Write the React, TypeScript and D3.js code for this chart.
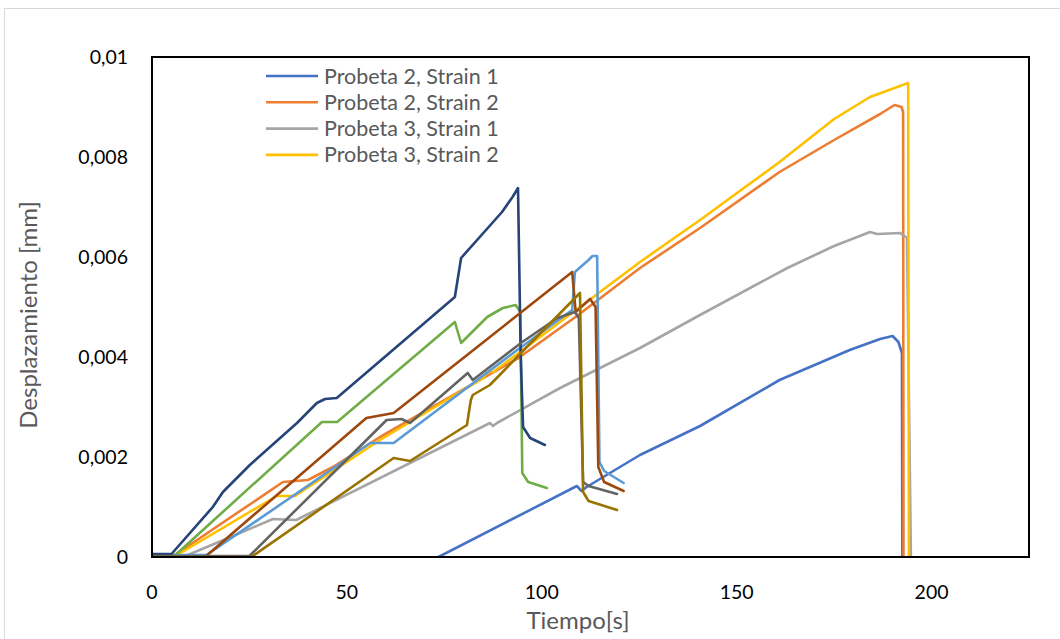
import * as d3 from "d3";

// tiempo [s], desplazamiento [mm]
const p2s1 = [[73.5, 0], [109, 0.00142], [110.2, 0.00132], [111.5, 0.0014], [125.2, 0.00204], [140.6, 0.00262], [161, 0.00354], [179, 0.00414], [186.8, 0.00436], [190, 0.00442], [191.5, 0.0043], [192.4, 0.00408], [192.5, 0]];
const p2s2 = [[0, 0.00002], [5.5, 0.00002], [33.6, 0.0015], [40, 0.00154], [46.4, 0.0018], [58.5, 0.0024], [94, 0.00398], [109, 0.00482], [125.2, 0.00578], [140.6, 0.00658], [161, 0.0077], [175, 0.00834], [186.8, 0.00886], [190.5, 0.00904], [192.3, 0.009], [192.7, 0.0089], [192.8, 0]];
const p3s1 = [[0, 0], [8, 0], [22.6, 0.00048], [31, 0.00076], [37, 0.00074], [86.7, 0.00268], [87.5, 0.00262], [88.5, 0.00268], [104.7, 0.00338], [125.2, 0.00418], [140.6, 0.00484], [163, 0.00578], [175, 0.00622], [184.2, 0.0065], [186, 0.00646], [192, 0.00648], [193.7, 0.00638], [194.7, 0]];
const p3s2 = [[0, 0.00002], [6, 0.00002], [32, 0.00122], [36.7, 0.00122], [58.5, 0.00234], [85, 0.00358], [86, 0.0037], [87.5, 0.0037], [94.4, 0.0041], [125.2, 0.0059], [140.6, 0.00674], [161, 0.0079], [175, 0.00876], [184.2, 0.0092], [194, 0.00948], [194.2, 0]];
const s5 = [[0, 0.00004], [14, 0.00004], [56, 0.00228], [62, 0.00228], [93.7, 0.00414], [107.8, 0.00494], [108.5, 0.0057], [112, 0.00594], [113, 0.00602], [114.2, 0.00602], [114.8, 0.0019], [116, 0.00172], [121, 0.00148]];
const s6 = [[0, 0.00004], [6, 0.00004], [43.6, 0.0027], [47.5, 0.0027], [77.7, 0.0047], [79.3, 0.00428], [86, 0.0048], [90, 0.00498], [93.3, 0.00504], [94.5, 0.0049], [95, 0.00168], [96.5, 0.0015], [101.3, 0.00138]];
const s7 = [[0, 0.00006], [5, 0.00006], [15.6, 0.001], [18.2, 0.0013], [25.1, 0.00184], [37.2, 0.00268], [42.3, 0.00308], [44.4, 0.00316], [47.4, 0.00318], [77.7, 0.0052], [79.3, 0.00598], [89.8, 0.0069], [92.5, 0.0072], [93.9, 0.00738], [94.6, 0.004], [95.2, 0.0026], [97, 0.00238], [100.8, 0.00224]];
const s8 = [[0, 0], [13.6, 0], [55, 0.00278], [62, 0.00288], [107.8, 0.0057], [108.7, 0.0049], [112.4, 0.00516], [113.8, 0.005], [114.5, 0.0018], [116, 0.0015], [121, 0.00132]];
const s9 = [[0, 0.00002], [25, 0.00002], [60.2, 0.00274], [64, 0.00276], [66.2, 0.00268], [81, 0.00368], [82.3, 0.00354], [95, 0.0043], [104, 0.00478], [108.5, 0.0049], [109.5, 0.00478], [110.6, 0.0015], [112, 0.00142], [119.3, 0.00126]];
const s10 = [[0, 0], [25.5, 0], [62, 0.00198], [66.2, 0.00192], [80.8, 0.00264], [81.8, 0.00314], [82.3, 0.00324], [86.7, 0.00344], [94.4, 0.00406], [105, 0.0049], [109.8, 0.00528], [110.6, 0.0013], [112, 0.00112], [119.3, 0.00094]];

const seriesData = [p2s1, p2s2, p3s1, p3s2, s5, s6, s7, s8, s9, s10];
const seriesColors = ["#4472C4", "#ED7D31", "#A5A5A5", "#FFC000", "#5B9BD5", "#70AD47", "#264478", "#9E480E", "#636363", "#997300"];
const legendNames = ["Probeta 2, Strain 1", "Probeta 2, Strain 2", "Probeta 3, Strain 1", "Probeta 3, Strain 2"];

const xTicks = [0, 50, 100, 150, 200];
const yTicks = [0, 0.002, 0.004, 0.006, 0.008, 0.01];
const yTickLabels = ["0", "0,002", "0,004", "0,006", "0,008", "0,01"];

const W = 1060;
const H = 639;
const FONT = "Lato, 'Noto Sans', sans-serif";

export default function App() {
    const left = 152;
    const top = 57;
    const right = 1029;
    const bottom = 557;

    const x = d3.scaleLinear().domain([0, 225]).range([left, right]);
    const y = d3.scaleLinear().domain([0, 0.01]).range([bottom, top]);

    const line = d3
        .line()
        .x((d) => x(d[0]))
        .y((d) => y(d[1]));

    return (
        <svg width={W} height={H} style={{ position: "absolute", left: 0, top: 0, background: "#fff" }}>
            <rect x={4.5} y={8.5} width={W + 10} height={H + 10} fill="#fff" stroke="#D9D9D9" strokeWidth={1} />
            <defs>
                <clipPath id="plot">
                    <rect x={left} y={top} width={right - left} height={bottom - top + 1} />
                </clipPath>
            </defs>
            <g clipPath="url(#plot)">
                {seriesData.map((s, i) => (
                    <path
                        key={`s-${i}`}
                        d={line(s)}
                        fill="none"
                        stroke={seriesColors[i]}
                        strokeWidth={2.6}
                        strokeLinejoin="round"
                        strokeLinecap="round"
                    />
                ))}
            </g>
            <rect x={left} y={top} width={right - left} height={bottom - top} fill="none" stroke="#000" strokeWidth={2} />

            {yTicks.map((t, i) => (
                <text key={`yt-${i}`} x={128} y={y(t)} dy="0.35em" textAnchor="end" fontFamily={FONT} fontSize={19.5} fill="#000">
                    {yTickLabels[i]}
                </text>
            ))}
            {xTicks.map((t) => (
                <text key={`xt-${t}`} x={x(t)} y={592} dy="0.35em" textAnchor="middle" fontFamily={FONT} fontSize={19.5} fill="#000">
                    {t}
                </text>
            ))}
            <text x={578} y={621} dy="0.35em" textAnchor="middle" fontFamily={FONT} fontSize={24} fill="#595959">
                Tiempo[s]
            </text>
            <text
                transform={`translate(29, ${(top + bottom) / 2 + 8}) rotate(-90)`}
                dy="0.35em"
                textAnchor="middle"
                fontFamily={FONT}
                fontSize={24}
                fill="#595959"
            >
                Desplazamiento [mm]
            </text>

            {legendNames.map((n, i) => (
                <g key={`lg-${i}`} transform={`translate(266, ${76 + i * 26.3})`}>
                    <line x1={0} x2={52} y1={0} y2={0} stroke={seriesColors[i]} strokeWidth={2.6} />
                    <text x={58} y={0} dy="0.35em" fontFamily={FONT} fontSize={21.5} fill="#595959">
                        {n}
                    </text>
                </g>
            ))}
        </svg>
    );
}
